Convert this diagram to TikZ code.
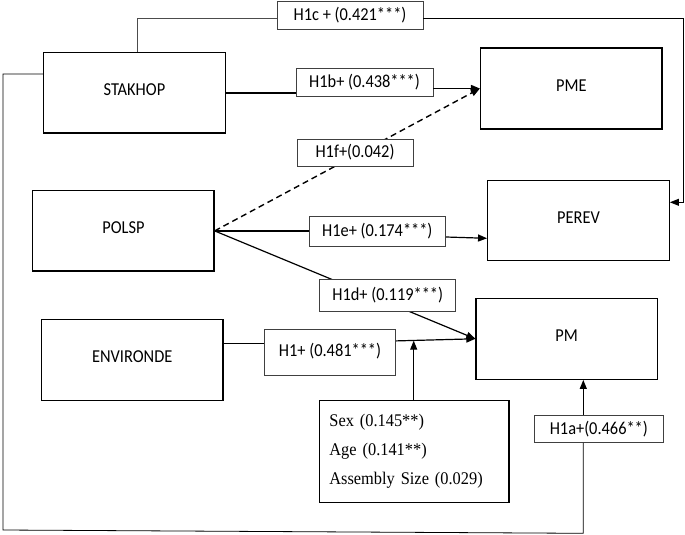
\documentclass[tikz,border=0pt]{standalone}
\usepackage{fontspec}
\setmainfont{Carlito}[FakeStretch=0.9]
\newfontfamily\timesf{Liberation Serif}[FakeStretch=0.92]
\usetikzlibrary{arrows.meta}
\begin{document}
\begin{tikzpicture}[x=1pt,y=-1pt,
  mainbox/.style={draw=black,line width=1.3pt,fill=white,inner sep=0pt,
    font=\fontsize{18.2}{20}\selectfont},
  lblbox/.style={draw=black!75,line width=0.8pt,fill=white,inner sep=0pt,
    font=\fontsize{18.2}{20}\selectfont},
  conn/.style={draw=black,line width=1.2pt},
  thinconn/.style={draw=black!70,line width=0.8pt},
  tip/.style={-{Triangle[length=9pt,width=7pt]}}]
\useasboundingbox (0,0) rectangle (685,535);

% main boxes
\node[mainbox,minimum width=181.6pt,minimum height=80.3pt] (stak) at (134.4,92.9) {\raisebox{6pt}{STAKHOP}};
\node[mainbox,minimum width=181.5pt,minimum height=81pt] (pme) at (571.3,88.5) {\raisebox{6pt}{PME}};
\node[mainbox,minimum width=181.2pt,minimum height=80.3pt] (polsp) at (123.4,230.9) {\raisebox{6pt}{POLSP}};
\node[mainbox,minimum width=181.6pt,minimum height=80pt] (perev) at (578.5,220.7) {\raisebox{6pt}{PEREV}};
\node[mainbox,minimum width=181.3pt,minimum height=81.4pt] (env) at (132.2,360) {\raisebox{7pt}{ENVIRONDE}};
\node[mainbox,minimum width=181.4pt,minimum height=81pt] (pm) at (566.7,338.8) {\raisebox{6pt}{PM}};

% coordinates for connector bends
\coordinate (c1) at (137.6,18.5);
\coordinate (c2) at (683,18.5);
\coordinate (c3) at (683,202.3);
\coordinate (l1) at (3,74);
\coordinate (l2) at (3,530);
\coordinate (l3) at (583.3,533.3);
\coordinate (j) at (413.7,340.7);

% connectors drawn behind labels
\draw[conn,line width=1.4pt,dash pattern=on 6pt off 4pt,tip] (polsp.east) -- (pme.west);
\draw[conn,tip] (polsp.east) -- (pm.west);

% labels
\node[lblbox,minimum width=146pt,minimum height=28pt] (h1c) at (350,15) {H1c + (0.421***)};
\node[lblbox,minimum width=137pt,minimum height=28pt] (h1b) at (364.5,82) {H1b+ (0.438***)};
\node[lblbox,minimum width=116pt,minimum height=27pt] (h1f) at (355,152.5) {H1f+(0.042)};
\node[lblbox,minimum width=136.6pt,minimum height=29.3pt] (h1e) at (377.3,231.3) {H1e+ (0.174***)};
\node[lblbox,minimum width=135.8pt,minimum height=32.7pt] (h1d) at (387.7,295.3) {H1d+ (0.119***)};
\node[lblbox,minimum width=131.4pt,minimum height=45.7pt] (h1) at (330,352.2) {\raisebox{5pt}{H1+ (0.481***)}};
\node[lblbox,minimum width=129pt,minimum height=27.3pt] (h1a) at (598.8,428.7) {H1a+(0.466**)};
\node[mainbox,line width=1.1pt,align=left,text width=170pt,inner xsep=9.6pt,minimum height=102pt,
  font=\timesf\fontsize{17.8}{29}\selectfont] (cov) at (414.4,451.7)
  {Sex (0.145**)\\Age (0.141**)\\Assembly Size (0.029)};

% H1c
\draw[thinconn] (stak.north -| c1) -- (c1) -- (c1 -| h1c.west);
\draw[thinconn,draw=black,tip] (c1 -| h1c.east) -- (c2) -- (c3) -- (c3 -| perev.east);
% H1b
\draw[conn,line width=1.6pt] (stak.east) -- (stak.east -| h1b.west);
\draw[conn,line width=1.6pt,tip] (h1b.east |- pme.west) -- (pme.west);
% H1e
\draw[conn] (polsp.east) -- (polsp.east -| h1e.west);
\draw[conn,tip] ([yshift=-5.7pt]h1e.east) -- ([yshift=-17.6pt]perev.west);
% H1
\draw[conn] ([yshift=16.7pt]env.east) -- ([yshift=8.9pt]h1.west);
\draw[conn,tip] ([yshift=11.3pt]h1.east) -- (pm.west);
\draw[conn,tip] (cov.north -| j) -- (j);
% H1a loop
\draw[thinconn,draw=black] (stak.west |- l1) -- (l1) -- (l2) -- (l3) -- (h1a.south -| l3);
\draw[conn,tip] (h1a.north -| l3) -- (pm.south -| l3);
\end{tikzpicture}
\end{document}
